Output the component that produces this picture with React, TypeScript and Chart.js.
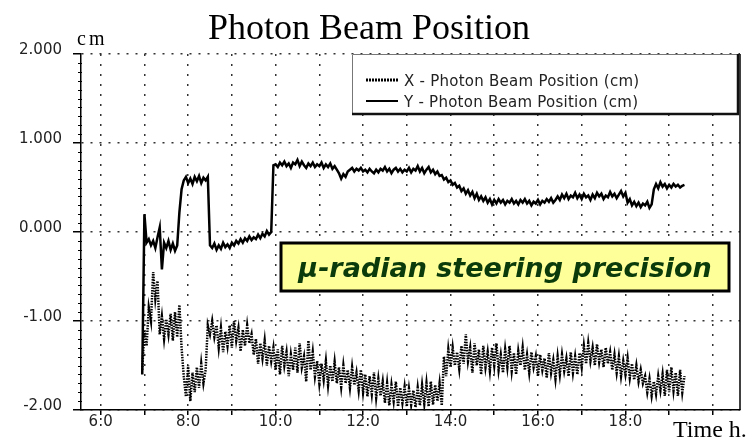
import React, { useEffect, useRef } from 'react';
import { Chart, registerables } from 'chart.js';

Chart.register(...registerables);

// Sampling grid of the beam monitor (hours of day)
const T0 = 6.95;
const STEP = 0.05;

// Y - Photon Beam Position (cm), one row per hour
const yPosition = [
  -1.60,
  0.20, -0.12, -0.08, -0.15, -0.10, -0.18, -0.06, 0.05, -0.42, -0.12, -0.18, -0.10, -0.20, -0.13, -0.21, -0.15, 0.22, 0.48, 0.58, 0.62,
  0.55, 0.60, 0.54, 0.62, 0.57, 0.63, 0.55, 0.61, 0.58, 0.62, -0.15, -0.18, -0.13, -0.20, -0.15, -0.19, -0.12, -0.17, -0.14, -0.18,
  -0.12, -0.15, -0.10, -0.13, -0.08, -0.12, -0.07, -0.10, -0.05, -0.09, -0.06, -0.08, -0.03, -0.07, -0.02, -0.05, 0.01, -0.03, 0.00, 0.75,
  0.76, 0.73, 0.78, 0.75, 0.79, 0.74, 0.77, 0.72, 0.78, 0.76, 0.81, 0.74, 0.79, 0.75, 0.72, 0.77, 0.74, 0.78, 0.73, 0.76,
  0.74, 0.78, 0.72, 0.76, 0.73, 0.77, 0.71, 0.74, 0.70, 0.66, 0.60, 0.65, 0.62, 0.68, 0.70, 0.72, 0.68, 0.71, 0.69, 0.72,
  0.68, 0.70, 0.67, 0.71, 0.68, 0.66, 0.70, 0.67, 0.71, 0.69, 0.73, 0.68, 0.71, 0.66, 0.70, 0.72, 0.68, 0.71, 0.67, 0.70,
  0.68, 0.72, 0.67, 0.71, 0.69, 0.74, 0.68, 0.72, 0.66, 0.70, 0.73, 0.67, 0.70, 0.65, 0.68, 0.63, 0.64, 0.59, 0.61, 0.56,
  0.58, 0.53, 0.55, 0.50, 0.52, 0.46, 0.49, 0.43, 0.47, 0.41, 0.45, 0.38, 0.43, 0.36, 0.40, 0.35, 0.39, 0.33, 0.37, 0.31,
  0.36, 0.32, 0.37, 0.33, 0.36, 0.31, 0.35, 0.33, 0.37, 0.32, 0.35, 0.31, 0.36, 0.33, 0.37, 0.32, 0.35, 0.30, 0.34, 0.32,
  0.36, 0.31, 0.35, 0.33, 0.37, 0.34, 0.38, 0.33, 0.36, 0.40, 0.36, 0.42, 0.38, 0.43, 0.37, 0.41, 0.39, 0.44, 0.38, 0.42,
  0.37, 0.43, 0.39, 0.41, 0.36, 0.42, 0.38, 0.44, 0.40, 0.43, 0.37, 0.41, 0.39, 0.45, 0.40, 0.43, 0.38, 0.42, 0.46, 0.40,
  0.44, 0.33, 0.37, 0.30, 0.34, 0.29, 0.33, 0.28, 0.32, 0.30, 0.34, 0.27, 0.31, 0.48, 0.54, 0.49, 0.56, 0.51, 0.54, 0.49,
  0.53, 0.50, 0.54, 0.51, 0.53, 0.50, 0.52, 0.53,
];

// X - Photon Beam Position (cm), one row per hour
const xPosition = [
  -1.55,
  -1.10, -1.28, -0.85, -1.00, -0.45, -0.75, -0.55, -1.15, -0.95, -1.20, -0.98, -1.15, -0.92, -1.22, -0.90, -1.18, -0.82, -1.30, -1.62, -1.85,
  -1.50, -1.90, -1.58, -1.80, -1.52, -1.75, -1.48, -1.70, -1.55, -1.05, -1.15, -1.00, -1.18, -1.05, -1.30, -1.08, -1.35, -1.12, -1.28, -1.05,
  -1.30, -1.00, -1.22, -1.08, -1.34, -1.10, -1.28, -1.05, -1.25, -1.15, -1.38, -1.20, -1.48, -1.25, -1.42, -1.22, -1.50, -1.28, -1.45, -1.30,
  -1.55, -1.32, -1.60, -1.28, -1.50, -1.35, -1.62, -1.38, -1.55, -1.30, -1.58, -1.25, -1.52, -1.40, -1.68, -1.22, -1.55, -1.35, -1.62, -1.45,
  -1.70, -1.48, -1.66, -1.45, -1.72, -1.50, -1.68, -1.46, -1.70, -1.52, -1.74, -1.50, -1.70, -1.55, -1.75, -1.52, -1.72, -1.58, -1.78, -1.55,
  -1.80, -1.60, -1.85, -1.62, -1.82, -1.58, -1.86, -1.65, -1.84, -1.68, -1.92, -1.70, -1.95, -1.72, -1.90, -1.68, -1.96, -1.75, -1.92, -1.74,
  -1.96, -1.76, -1.94, -1.78, -1.97, -1.75, -1.95, -1.72, -1.93, -1.70, -1.96, -1.68, -1.94, -1.72, -1.90, -1.70, -1.95, -1.40, -1.62, -1.32,
  -1.52, -1.30, -1.50, -1.35, -1.54, -1.28, -1.48, -1.15, -1.45, -1.30, -1.58, -1.25, -1.50, -1.32, -1.60, -1.28, -1.52, -1.35, -1.56, -1.30,
  -1.50, -1.25, -1.55, -1.38, -1.58, -1.32, -1.52, -1.28, -1.56, -1.36, -1.60, -1.34, -1.50, -1.30, -1.55, -1.38, -1.58, -1.35, -1.52, -1.40,
  -1.62, -1.38, -1.55, -1.42, -1.64, -1.36, -1.58, -1.44, -1.65, -1.40, -1.60, -1.38, -1.56, -1.42, -1.62, -1.35, -1.58, -1.40, -1.60, -1.36,
  -1.52, -1.28, -1.48, -1.25, -1.45, -1.30, -1.50, -1.26, -1.46, -1.32, -1.52, -1.30, -1.48, -1.35, -1.55, -1.38, -1.58, -1.40, -1.62, -1.45,
  -1.60, -1.42, -1.64, -1.48, -1.66, -1.50, -1.68, -1.55, -1.70, -1.62, -1.80, -1.65, -1.84, -1.68, -1.82, -1.62, -1.78, -1.60, -1.84, -1.55,
  -1.80, -1.52, -1.78, -1.58, -1.84, -1.55, -1.80, -1.62,
];

const sampleTimes = yPosition.map((_, i) => Math.round((T0 + i * STEP) * 100) / 100);

// Axis labelling
const labeledHours = [6, 8, 10, 12, 14, 16, 18];
const yTickValues = [-2, -1, 0, 1, 2];
const yTickLabels = ['-2.00', '-1.00', '0.000', '1.000', '2.000'];

const TITLE = 'Photon Beam Position';
const LEGEND_X = 'X - Photon Beam Position (cm)';
const LEGEND_Y = 'Y - Photon Beam Position (cm)';
const NOTE = 'μ-radian steering precision';

const SANS = '"DejaVu Sans", sans-serif';
const SERIF = '"Liberation Serif", "Times New Roman", serif';

const decorations = {
  id: 'decorations',
  afterDraw(chart: any) {
    const { ctx, chartArea: a, scales } = chart;
    const y = scales.y;
    ctx.save();

    // minor ticks on the value axis
    ctx.strokeStyle = '#000';
    ctx.lineWidth = 1;
    for (let k = -20; k <= 20; k++) {
      if (k % 10 === 0) continue;
      const py = Math.round(y.getPixelForValue(k / 10)) + 0.5;
      ctx.beginPath();
      ctx.moveTo(a.left - 3, py);
      ctx.lineTo(a.left + 1, py);
      ctx.stroke();
    }

    // right frame
    ctx.lineWidth = 1.5;
    ctx.beginPath();
    ctx.moveTo(a.right, a.top);
    ctx.lineTo(a.right, a.bottom);
    ctx.stroke();

    // legend box
    const lx = 352, ly = 54, lw = 387, lh = 61;
    ctx.fillStyle = '#fff';
    ctx.fillRect(lx, ly, lw, lh);
    ctx.strokeStyle = '#777';
    ctx.lineWidth = 1;
    ctx.beginPath();
    ctx.moveTo(lx + 0.5, ly + lh);
    ctx.lineTo(lx + 0.5, ly + 0.5);
    ctx.lineTo(lx + lw, ly + 0.5);
    ctx.stroke();
    ctx.strokeStyle = '#111';
    ctx.lineWidth = 2.5;
    ctx.beginPath();
    ctx.moveTo(lx + lw - 1, ly);
    ctx.lineTo(lx + lw - 1, ly + lh - 1);
    ctx.lineTo(lx, ly + lh - 1);
    ctx.stroke();

    // legend swatches
    ctx.strokeStyle = '#000';
    ctx.lineWidth = 3;
    ctx.setLineDash([2, 1]);
    ctx.beginPath();
    ctx.moveTo(366, 80);
    ctx.lineTo(398, 80);
    ctx.stroke();
    ctx.setLineDash([]);
    ctx.lineWidth = 2;
    ctx.beginPath();
    ctx.moveTo(366, 101);
    ctx.lineTo(398, 101);
    ctx.stroke();

    ctx.fillStyle = '#222';
    ctx.font = `15px ${SANS}`;
    (ctx as any).letterSpacing = '0.25px';
    ctx.textAlign = 'left';
    ctx.textBaseline = 'alphabetic';
    ctx.fillText(LEGEND_X, 404, 86);
    ctx.fillText(LEGEND_Y, 404, 107);
    (ctx as any).letterSpacing = '0px';

    // highlighted note
    const bx = 281, by = 243, bw = 448, bh = 48;
    ctx.fillStyle = '#FFFF99';
    ctx.fillRect(bx, by, bw, bh);
    ctx.strokeStyle = '#000';
    ctx.lineWidth = 3;
    ctx.strokeRect(bx, by, bw, bh);
    ctx.fillStyle = '#0b3b0b';
    ctx.font = `italic bold 27px ${SANS}`;
    ctx.textAlign = 'center';
    ctx.fillText(NOTE, bx + bw / 2, 277, 422);

    // title and axis captions
    ctx.fillStyle = '#000';
    ctx.font = `36px ${SERIF}`;
    ctx.textAlign = 'center';
    ctx.fillText(TITLE, 369, 39);
    ctx.textAlign = 'left';
    ctx.font = `20px ${SERIF}`;
    (ctx as any).letterSpacing = '3px';
    ctx.fillText('cm', 77, 45);
    (ctx as any).letterSpacing = '0px';
    ctx.font = `24px ${SERIF}`;
    ctx.fillText('Time h.', 673, 437);

    ctx.restore();
  },
};

export default function App() {
  const canvasRef = useRef<HTMLCanvasElement | null>(null);

  useEffect(() => {
    const canvas = canvasRef.current;
    if (!canvas) return;

    const chart = new Chart(canvas, {
      type: 'line',
      data: {
        datasets: [
          {
            label: LEGEND_X,
            data: sampleTimes.map((t, i) => ({ x: t, y: xPosition[i] })),
            borderColor: '#000',
            borderWidth: 2.5,
            borderDash: [1.5, 1.2],
            pointRadius: 0,
            tension: 0,
          },
          {
            label: LEGEND_Y,
            data: sampleTimes.map((t, i) => ({ x: t, y: yPosition[i] })),
            borderColor: '#000',
            borderWidth: 2.5,
            pointRadius: 0,
            tension: 0,
          },
        ],
      },
      options: {
        animation: false,
        responsive: false,
        devicePixelRatio: 1,
        layout: { padding: { top: 54, right: 9, left: 0, bottom: 0 } },
        plugins: {
          legend: { display: false },
          title: { display: false },
          tooltip: { enabled: false },
        },
        scales: {
          x: {
            type: 'linear',
            min: 5.55,
            max: 20.62,
            afterFit: (s: any) => { s.height = 32; },
            ticks: {
              stepSize: 1,
              includeBounds: false,
              autoSkip: false,
              maxRotation: 0,
              padding: -2,
              color: '#222',
              font: { family: SANS, size: 15 },
              callback: (v: any) => (labeledHours.includes(Number(v)) ? `${v}:0` : ''),
            },
            grid: {
              color: '#333',
              lineWidth: 1.5,
              tickLength: 5,
              tickColor: '#000',
              tickWidth: 1.5,
            },
            border: { display: true, color: '#000', width: 1.5, dash: [2, 8] },
          },
          y: {
            type: 'linear',
            min: -2,
            max: 2,
            afterFit: (s: any) => { s.width = 81; },
            ticks: {
              stepSize: 1,
              padding: 11,
              labelOffset: -4,
              color: '#222',
              font: { family: SANS, size: 15 },
              callback: (v: any) => {
                const idx = yTickValues.indexOf(Number(v));
                return idx >= 0 ? yTickLabels[idx] : '';
              },
            },
            grid: {
              color: '#333',
              lineWidth: 1.5,
              tickLength: 8,
              tickColor: '#000',
              tickWidth: 1.5,
            },
            border: { display: true, color: '#000', width: 1.5, dash: [2, 7] },
          },
        },
      },
      plugins: [decorations],
    } as any);

    return () => chart.destroy();
  }, []);

  return (
    <div style={{ position: 'fixed', left: 0, top: 0, width: 749, height: 442, background: '#fff' }}>
      <canvas ref={canvasRef} width={749} height={442} style={{ display: 'block' }} />
    </div>
  );
}
